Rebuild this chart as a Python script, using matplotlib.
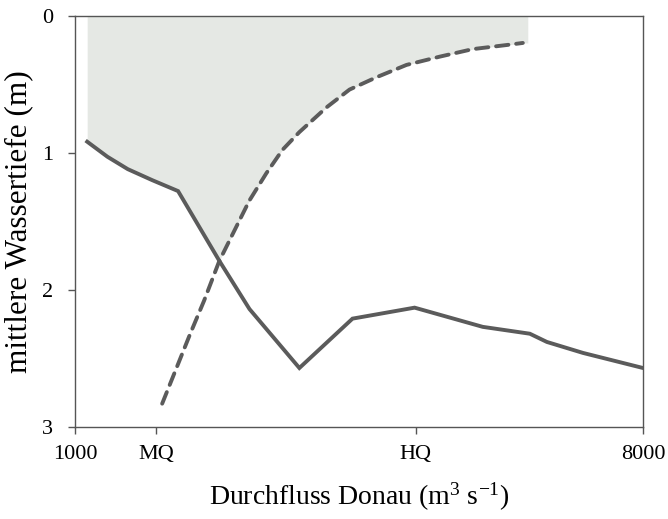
import numpy as np
import matplotlib
matplotlib.use("Agg")
import matplotlib.pyplot as plt

# ── DATA ─────────────────────────────────────────────────
# solid line: mean water depth vs. Danube discharge
solid_q = [1150, 1400, 1650, 1950, 2270, 2780, 3150, 3765, 4420, 5185, 6025, 6605, 6815, 7260, 8000]
solid_depth = [0.92, 1.03, 1.12, 1.20, 1.28, 1.79, 2.14, 2.57, 2.21, 2.13, 2.27, 2.32, 2.38, 2.46, 2.57]

# dashed line
dash_q = [2074, 2420, 2590, 2778, 2988, 3148, 3358, 3556, 3765, 4099, 4383, 4716,
          5086, 5494, 5901, 6321, 6519]
dash_depth = [2.83, 2.32, 2.08, 1.79, 1.54, 1.35, 1.15, 0.98, 0.85, 0.67, 0.54, 0.45,
              0.36, 0.30, 0.245, 0.215, 0.20]

# shaded zone ends here
shade_right = 6580

tick_pos = [1000, 2000, 5200, 8000]
tick_labels = ["1000", "MQ", "HQ", "8000"]

# ── PLOT ─────────────────────────────────────────────────
plt.rcParams['font.family'] = ['Liberation Serif', 'DejaVu Serif']
plt.rcParams['mathtext.fontset'] = 'custom'
plt.rcParams['mathtext.rm'] = 'Liberation Serif'
plt.rcParams['mathtext.it'] = 'Liberation Serif:italic'

fig = plt.figure(figsize=(6.68, 5.19), dpi=100)
ax = fig.add_axes([0.1123, 0.1773, 0.8503, 0.7928])

line_col = '#5b5b5b'

# shaded area: above both curves
xs = np.linspace(solid_q[0], shade_right, 800)
s = np.interp(xs, solid_q, solid_depth)
d = np.interp(xs, dash_q, dash_depth, left=10, right=dash_depth[-1])
ax.fill_between(xs, 0, np.minimum(s, d), color='#e5e8e4', lw=0, zorder=1)

ax.plot(solid_q, solid_depth, color=line_col, lw=2.8, solid_joinstyle='miter', zorder=3)
ax.plot(dash_q, dash_depth, color=line_col, lw=2.8, dashes=(3.2, 2.0),
        dash_capstyle='round', zorder=3)

ax.set_xlim(1000, 8000)
ax.set_ylim(3, 0)
ax.set_xticks(tick_pos)
ax.set_xticklabels(tick_labels)
ax.set_yticks([0, 1, 2, 3])

for sp in ax.spines.values():
    sp.set_color('#555555')
    sp.set_linewidth(1.0)
ax.tick_params(direction='out', length=5, width=1, color='#555555', labelsize=16)
ax.tick_params(axis='x', pad=8)
ax.tick_params(axis='y', pad=11)

ax.set_xlabel(r'Durchfluss Donau (m$^{3}$ s$^{\mathrm{-1}}$)', fontsize=20, labelpad=12)
ax.set_ylabel('mittlere Wassertiefe (m)', fontsize=22.5, labelpad=6)

plt.savefig('out.png', dpi=100)
